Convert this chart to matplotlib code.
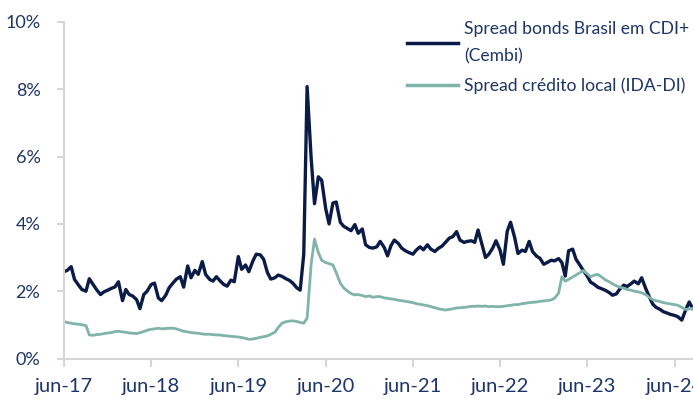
import numpy as np
import pandas as pd
import matplotlib
matplotlib.use("Agg")
import matplotlib.pyplot as plt

# Séries (points semi-mensuels, en %)
cembi = [
    2.58, 2.62, 2.73, 2.35, 2.18, 2.05, 2.00, 2.37, 2.20, 2.05, 1.90, 1.98,
    2.03, 2.08, 2.13, 2.28, 1.72, 2.05, 1.90, 1.86, 1.75, 1.48, 1.90, 2.00,
    2.20, 2.24, 1.80, 1.72, 1.88, 2.10, 2.25, 2.36, 2.43, 2.12, 2.75, 2.40,
    2.62, 2.50, 2.88, 2.50, 2.35, 2.30, 2.43, 2.32, 2.20, 2.15, 2.33, 2.28,
    3.03, 2.65, 2.78, 2.58, 2.90, 3.10, 3.08, 2.95, 2.55, 2.36, 2.40, 2.48,
    2.44, 2.38, 2.32, 2.24, 2.10, 2.03, 3.10, 8.08, 5.95, 4.60, 5.40, 5.30,
    4.45, 4.00, 4.62, 4.65, 4.05, 3.93, 3.86, 3.80, 3.98, 3.72, 3.85, 3.38,
    3.30, 3.28, 3.32, 3.48, 3.30, 3.05, 3.35, 3.52, 3.42, 3.28, 3.20, 3.15,
    3.10, 3.22, 3.32, 3.23, 3.38, 3.25, 3.18, 3.27, 3.34, 3.45, 3.58, 3.62,
    3.77, 3.52, 3.45, 3.48, 3.50, 3.45, 3.82, 3.45, 3.00, 3.10, 3.28, 3.50,
    3.22, 2.80, 3.78, 4.05, 3.60, 3.12, 3.22, 3.18, 3.48, 3.18, 3.04, 2.98,
    2.80, 2.85, 2.92, 2.90, 2.97, 2.85, 2.45, 3.20, 3.25, 2.95, 2.78, 2.62,
    2.45, 2.27, 2.20, 2.12, 2.07, 2.03, 1.96, 1.88, 1.92, 2.06, 2.18, 2.14,
    2.22, 2.30, 2.22, 2.40, 2.08, 1.85, 1.62, 1.52, 1.46, 1.39, 1.35, 1.31,
    1.28, 1.24, 1.14, 1.40, 1.68, 1.49,
]

ida_di = [
    1.10, 1.07, 1.05, 1.03, 1.02, 1.00, 0.98, 0.70, 0.69, 0.71, 0.72, 0.74,
    0.76, 0.77, 0.80, 0.81, 0.79, 0.78, 0.76, 0.75, 0.74, 0.77, 0.80, 0.84,
    0.87, 0.88, 0.90, 0.88, 0.89, 0.90, 0.90, 0.88, 0.84, 0.81, 0.79, 0.77,
    0.76, 0.75, 0.73, 0.72, 0.72, 0.71, 0.70, 0.70, 0.68, 0.67, 0.66, 0.65,
    0.64, 0.62, 0.60, 0.57, 0.58, 0.60, 0.63, 0.65, 0.67, 0.72, 0.78, 0.92,
    1.05, 1.09, 1.11, 1.12, 1.10, 1.07, 1.05, 1.20, 2.80, 3.55, 3.15, 2.92,
    2.85, 2.82, 2.78, 2.55, 2.24, 2.10, 2.00, 1.93, 1.89, 1.90, 1.87, 1.84,
    1.86, 1.82, 1.84, 1.84, 1.80, 1.79, 1.77, 1.76, 1.73, 1.72, 1.70, 1.68,
    1.66, 1.63, 1.61, 1.59, 1.57, 1.54, 1.51, 1.48, 1.46, 1.44, 1.46, 1.48,
    1.50, 1.51, 1.52, 1.53, 1.55, 1.55, 1.56, 1.55, 1.56, 1.54, 1.55, 1.54,
    1.54, 1.55, 1.57, 1.58, 1.60, 1.60, 1.63, 1.64, 1.66, 1.67, 1.68, 1.70,
    1.71, 1.72, 1.74, 1.79, 1.94, 2.43, 2.30, 2.35, 2.42, 2.48, 2.55, 2.61,
    2.52, 2.43, 2.48, 2.50, 2.42, 2.34, 2.28, 2.22, 2.16, 2.12, 2.09, 2.05,
    2.03, 2.00, 1.98, 1.95, 1.90, 1.82, 1.75, 1.72, 1.69, 1.66, 1.64, 1.62,
    1.60, 1.58, 1.52, 1.46, 1.47, 1.49,
]

dates = pd.date_range("2017-06-01", periods=len(cembi), freq="SMS")

tick_dates = pd.to_datetime(["2017-06-01", "2018-06-01", "2019-06-01", "2020-06-01",
                             "2021-06-01", "2022-06-01", "2023-06-01", "2024-06-01"])
tick_labels = ["jun-17", "jun-18", "jun-19", "jun-20", "jun-21", "jun-22", "jun-23", "jun-24"]
y_ticks = [0, 2, 4, 6, 8, 10]

navy = "#0b1b47"
teal = "#80b3a9"
txt = "#1d3568"
gris = "#d6d6d6"

plt.rcParams["font.family"] = ["Lato", "DejaVu Sans"]

fig = plt.figure(figsize=(6.93, 4.03), dpi=100)
ax = fig.add_axes([64 / 693, 1 - 358.5 / 403, 1 - 64 / 693, (358.5 - 22) / 403])

ax.plot(dates, cembi, color=navy, linewidth=2.4, label="Spread bonds Brasil em CDI+\n(Cembi)")
ax.plot(dates, ida_di, color=teal, linewidth=2.0, label="Spread crédito local (IDA-DI)")

ax.set_ylim(0, 10)
ax.set_xlim(pd.Timestamp("2017-06-01"), pd.Timestamp("2024-08-17"))
ax.set_yticks(y_ticks)
ax.set_yticklabels([f"{v}%" for v in y_ticks])
ax.set_xticks(tick_dates)
ax.set_xticklabels(tick_labels)

for s in ["top", "right"]:
    ax.spines[s].set_visible(False)
for s in ["left", "bottom"]:
    ax.spines[s].set_color(gris)
    ax.spines[s].set_linewidth(1.5)
ax.tick_params(axis="y", length=5, width=1.5, color=gris, labelcolor=txt, labelsize=13, pad=12)
ax.tick_params(axis="x", length=6, width=1.5, color=gris, labelcolor=txt, labelsize=14.5, pad=8)

leg = ax.legend(loc="upper left", bbox_to_anchor=(407 / 693, 1 - 21 / 403),
                bbox_transform=fig.transFigure, frameon=False, fontsize=12.6,
                handlelength=2.9, handletextpad=0.35, borderpad=0, borderaxespad=0,
                labelspacing=0.75)
for t in leg.get_texts():
    t.set_color(txt)
    t.set_linespacing(1.85)
for l in leg.get_lines():
    l.set_linewidth(2.5)

fig.savefig("out.png", dpi=100)
